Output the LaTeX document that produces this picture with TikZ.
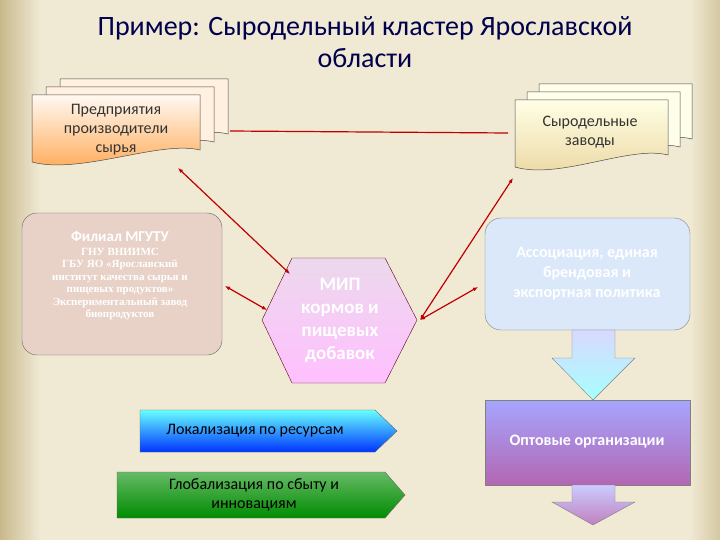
\documentclass[tikz,border=0pt]{standalone}
\usepackage{fontspec}
\setmainfont{Carlito}
\newfontfamily\serf{Liberation Serif}
\usetikzlibrary{shapes.geometric,shapes.arrows,arrows.meta}
\definecolor{bgc}{RGB}{240,233,212}
\definecolor{bgd}{RGB}{200,185,140}
\definecolor{filc}{RGB}{232,210,200}
\definecolor{assc}{RGB}{218,232,250}
\begin{document}
\begin{tikzpicture}[x=1pt,y=-1pt,
  redl/.style={draw=red!75!black,line width=1.2pt},
  redarr/.style={redl,{Latex[length=5pt,width=4pt]}-{Latex[length=5pt,width=4pt]}},
  wtext/.style={text=white,align=center},
  docsh/.style={draw=black!70,line width=0.5pt}]
\useasboundingbox (0,0) rectangle (720,540);
\fill[bgc] (0,0) rectangle (720,540);
\fill[left color=bgd, right color=bgc] (0,0) rectangle (40,540);
\fill[left color=bgc,right color=bgd!70!bgc] (690,0) rectangle (720,540);
% title
\node[font=\fontsize{28}{32}\selectfont,text=blue!30!black,align=center] (title) at (365,42) {Пример: Сыродельный кластер Ярославской\\области};
% left document stack
\foreach \dx/\dy in {28/-16,14/-8}{
 \draw[docsh,fill=orange!12!white] (32+\dx,95+\dy) -- (200+\dx,95+\dy) -- (200+\dx,150+\dy) .. controls (160+\dx,140+\dy) and (80+\dx,175+\dy) .. (32+\dx,160+\dy) -- cycle;}
\draw[docsh,top color=orange!5!white,bottom color=orange!70!white] (32,95) -- (200,95) -- (200,150) .. controls (160,140) and (80,175) .. (32,162) -- cycle;
\node[font=\fontsize{16}{19}\selectfont,align=center,text=black!80] (pred) at (116,130) {Предприятия\\производители\\сырья};
\coordinate (predR) at (230,131);
\coordinate (predB) at (178,168);
% right document stack
\foreach \dx/\dy in {24/-16,12/-8}{
 \draw[docsh,fill=white!92!yellow] (515+\dx,100+\dy) -- (668+\dx,100+\dy) -- (668+\dx,155+\dy) .. controls (630+\dx,145+\dy) and (560+\dx,180+\dy) .. (515+\dx,165+\dy) -- cycle;}
\draw[docsh,top color=white!90!yellow,bottom color=yellow!30!brown!45!white] (515,100) -- (668,100) -- (668,155) .. controls (630,145) and (560,180) .. (515,167) -- cycle;
\node[font=\fontsize{16}{19}\selectfont,align=center,text=black!80] (syr) at (590,132) {Сыродельные\\заводы};
\coordinate (syrL) at (508,133);
\coordinate (syrB) at (513,178);
% filial
\draw[draw=black!60,fill=filc,rounded corners=15pt] (22,355) -- (22,213) -- (222,213) -- (222,355) -- cycle;
\node[text=white,align=center,font=\serf\bfseries\fontsize{11}{12.5}\selectfont] (fil) at (120,276) {{\rmfamily\fontsize{15}{16}\selectfont Филиал МГУТУ}\\[1pt]ГНУ ВНИИМС\\ГБУ ЯО «Ярославский\\институт качества сырья и\\пищевых продуктов»\\Экспериментальный завод\\биопродуктов};
\coordinate (filR) at (225,286);
% hexagon
\draw[draw=purple!50!black,top color=violet!15!white,bottom color=magenta!25!white] (292,258) -- (385,258) -- (417,320) -- (385,383) -- (292,383) -- (262,320) -- cycle;
\node[wtext,font=\fontsize{19}{23}\selectfont\bfseries] (mip) at (340,320) {МИП\\кормов и\\пищевых\\добавок};
% association
\draw[draw=black!50,fill=assc,rounded corners=16pt] (485,218) rectangle (690,330);
\node[wtext,font=\fontsize{16}{20}\selectfont\bfseries] (assoc) at (587,274) {Ассоциация, единая\\брендовая и\\экспортная политика};
% wholesale
\draw[draw=black!50,top color=blue!35!white,bottom color=violet!60!white] (485,400) rectangle (690,485);
\node[wtext,font=\fontsize{16}{19}\selectfont\bfseries] (opt) at (587,442) {Оптовые организации};
% down arrows
\draw[draw=black!50,top color=blue!15!white,bottom color=cyan!35!white] (572,330) -- (615,330) -- (615,358) -- (635,358) -- (593,400) -- (552,358) -- (572,358) -- cycle;
\draw[draw=black!50,top color=blue!20!white,bottom color=violet!50!white] (572,485) -- (615,485) -- (615,502) -- (635,502) -- (593,525) -- (552,502) -- (572,502) -- cycle;
% horizontal arrows
\draw[draw=black!60,top color=cyan!60!white,bottom color=blue!80!cyan] (140,410) -- (375,410) -- (397,431) -- (375,452) -- (140,452) -- cycle;
\node[font=\fontsize{16}{19}\selectfont,text=black] (loc) at (255,431) {Локализация по ресурсам};
\draw[draw=black!60,top color=green!55!black!60!white,bottom color=green!55!black] (117,472) -- (385,472) -- (405,495) -- (385,518) -- (117,518) -- cycle;
\node[font=\fontsize{16}{19}\selectfont,align=center,text=black] (glob) at (254,495) {Глобализация по сбыту и\\инновациям};
% connectors
\coordinate (hexA) at (290,274);
\coordinate (hexL) at (267,310);
\coordinate (hexR) at (420,320);
\coordinate (assL) at (478,287);
\draw[redl] (predR) -- (syrL);
\draw[redarr] (predB) -- (hexA);
\draw[redarr] (filR) -- (hexL);
\draw[redarr] (syrB) -- (hexR);
\draw[redarr] (assL) -- (hexR);
\end{tikzpicture}
\end{document}
